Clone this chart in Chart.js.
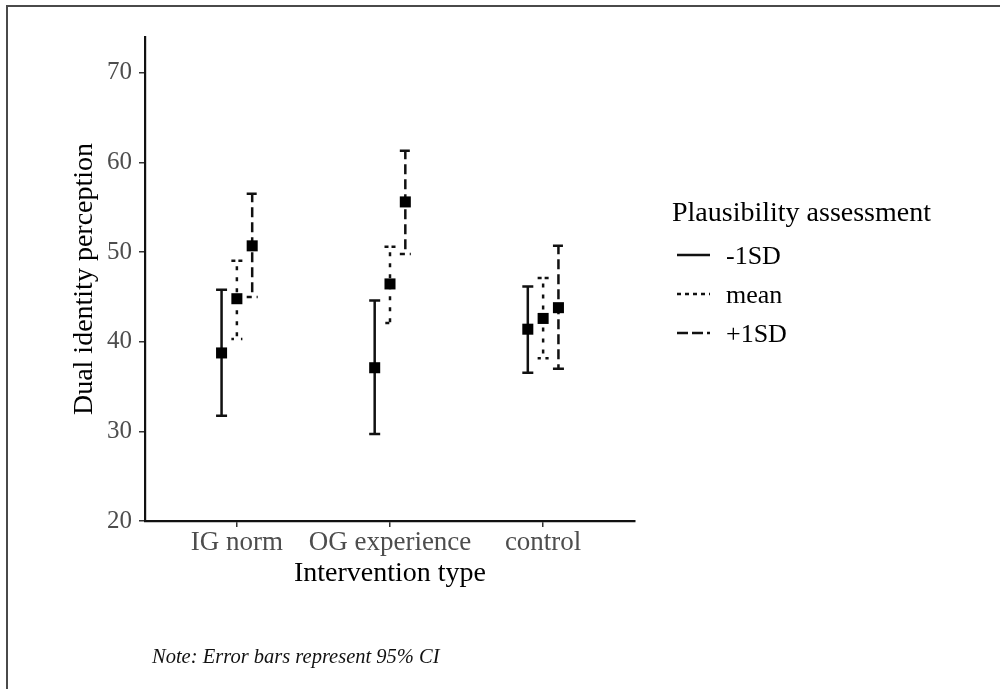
<!DOCTYPE html>
<html>
<head>
<meta charset="utf-8">
<script src="https://cdn.jsdelivr.net/npm/chart.js@4.4.1/dist/chart.umd.min.js"></script>
<style>
  html, body { margin: 0; padding: 0; background: #fff; }
  #wrap { position: relative; width: 1000px; height: 689px; overflow: hidden; }
  #frame { position: absolute; left: 6px; top: 5px; width: 1100px; height: 800px;
           border-top: 2px solid #4a4a4a; border-left: 2px solid #4a4a4a; pointer-events: none; }
  #note { position: absolute; left: 152px; top: 645px; font: italic 20.5px 'Liberation Serif', serif; color: #111; white-space: nowrap; }
  canvas { position: absolute; left: 0; top: 0; }
</style>
</head>
<body>
<div id="wrap">
  <canvas id="c" width="1000" height="689"></canvas>
  <div id="frame"></div>
  <div id="note">Note: Error bars represent 95% CI</div>
</div>
<script>
// ---- data ----
const categories = ['IG norm', 'OG experience', 'control'];
const seriesLabels = ['-1SD', 'mean', '+1SD'];
const yTicks = [20, 30, 40, 50, 60, 70];

const lowSDValues = [38.75, 37.1, 41.4];
const lowSDLower  = [31.75, 29.7, 36.55];
const lowSDUpper  = [45.8, 44.6, 46.15];

const meanValues = [44.8, 46.45, 42.6];
const meanLower  = [40.3, 42.1, 38.15];
const meanUpper  = [49.05, 50.6, 47.1];

const highSDValues = [50.7, 55.6, 43.8];
const highSDLower  = [45.0, 49.8, 37.0];
const highSDUpper  = [56.5, 61.3, 50.7];

const legendTitle = 'Plausibility assessment';
const xTitle = 'Intervention type';
const yTitle = 'Dual identity perception';

// ---- styling ----
const FONT = "'Liberation Serif', serif";
const dodge = [-0.1, 0, 0.1];
const barDash = [[], [4, 7], [10, 5]];
const legendDash = [[], [4, 4], [11, 4]];
const seriesVals = [lowSDValues, meanValues, highSDValues];
const seriesLo = [lowSDLower, meanLower, highSDLower];
const seriesHi = [lowSDUpper, meanUpper, highSDUpper];

Chart.defaults.font.family = FONT;

const datasets = seriesLabels.map((lab, d) => ({
  label: lab,
  data: categories.map((c, i) => ({ x: i + dodge[d], y: seriesVals[d][i] })),
  pointStyle: 'rect',
  pointRadius: 7.8,
  pointHoverRadius: 7.8,
  backgroundColor: '#000',
  borderColor: '#000',
  borderWidth: 0,
  showLine: false
}));

const errorBars = {
  id: 'errorBars',
  beforeDatasetsDraw(chart) {
    const { ctx, scales: { x, y } } = chart;
    ctx.save();
    ctx.strokeStyle = '#111';
    ctx.lineWidth = 2.5;
    ctx.lineCap = 'butt';
    const w = 5.5;
    seriesLabels.forEach((lab, d) => {
      ctx.setLineDash(barDash[d]);
      categories.forEach((c, i) => {
        const px = x.getPixelForValue(i + dodge[d]);
        const yh = y.getPixelForValue(seriesHi[d][i]);
        const yl = y.getPixelForValue(seriesLo[d][i]);
        ctx.beginPath();
        ctx.moveTo(px - w, yh);
        ctx.lineTo(px + w, yh);
        ctx.lineTo(px, yh);
        ctx.lineTo(px, yl);
        ctx.lineTo(px - w, yl);
        ctx.lineTo(px + w, yl);
        ctx.stroke();
      });
    });
    ctx.restore();
  }
};

const customLegend = {
  id: 'customLegend',
  afterDraw(chart) {
    const ctx = chart.ctx;
    ctx.save();
    ctx.fillStyle = '#000';
    ctx.textBaseline = 'alphabetic';
    ctx.textAlign = 'left';
    ctx.font = '28px ' + FONT;
    ctx.fillText(legendTitle, 672, 221);
    ctx.font = '26px ' + FONT;
    seriesLabels.forEach((lab, d) => {
      const base = 264 + d * 39;
      ctx.strokeStyle = '#111';
      ctx.lineWidth = 2.5;
      ctx.setLineDash(legendDash[d]);
      ctx.beginPath();
      ctx.moveTo(677, base - 9);
      ctx.lineTo(710, base - 9);
      ctx.stroke();
      ctx.fillText(lab, 726, base);
    });
    ctx.restore();
  }
};

new Chart(document.getElementById('c'), {
  type: 'scatter',
  data: { datasets },
  plugins: [errorBars, customLegend],
  options: {
    responsive: false,
    animation: false,
    devicePixelRatio: 1,
    layout: { padding: { top: 37, right: 365, bottom: 0, left: 0 } },
    plugins: { legend: { display: false }, tooltip: { enabled: false }, title: { display: false } },
    scales: {
      x: {
        type: 'linear',
        min: -0.6,
        max: 2.6,
        afterBuildTicks: s => { s.ticks = categories.map((c, i) => ({ value: i })); },
        afterFit: s => { s.height = 168; },
        ticks: {
          callback: v => categories[v],
          font: { size: 27 },
          color: '#4d4d4d',
          padding: 0,
          autoSkip: false,
          maxRotation: 0
        },
        grid: { drawOnChartArea: false, drawTicks: true, tickLength: 6, color: '#333', lineWidth: 1.5 },
        border: { display: true, color: '#111', width: 2.2 },
        title: { display: true, text: xTitle, color: '#000', font: { size: 28 }, padding: { top: 0, bottom: 98.7 } }
      },
      y: {
        type: 'linear',
        min: 20,
        max: 74,
        afterBuildTicks: s => { s.ticks = yTicks.map(v => ({ value: v })); },
        afterFit: s => { s.width = 145; },
        ticks: { font: { size: 25 }, color: '#4d4d4d', padding: 7 },
        grid: { drawOnChartArea: false, drawTicks: true, tickLength: 6, color: '#333', lineWidth: 1.5 },
        border: { display: true, color: '#111', width: 2.2 },
        title: { display: true, text: yTitle, color: '#000', font: { size: 28 }, padding: { top: 67.7, bottom: 0 } }
      }
    }
  }
});
</script>
</body>
</html>
